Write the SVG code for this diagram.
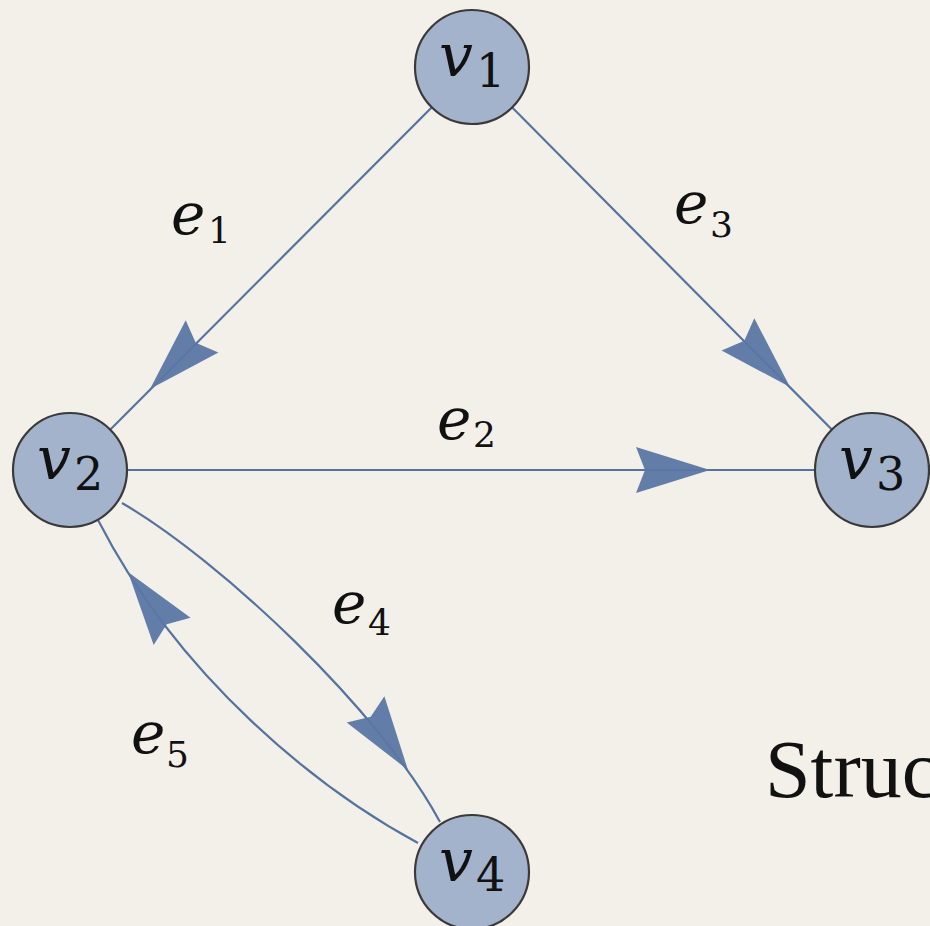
<svg xmlns="http://www.w3.org/2000/svg" width="930" height="926" viewBox="0 0 930 926">
<style>
.edge{fill:none;stroke:#5473a0;stroke-width:2.2}
.arrow{fill:#5a77a4;fill-opacity:0.95}
.node{fill:#a3b3cc;stroke:#3a3a3a;stroke-width:2.2}
.v{font-family:"DejaVu Serif",serif;font-style:italic;font-size:60px;fill:#111}
.vs{font-family:"DejaVu Serif",serif;font-size:46px;fill:#111}
.e{font-family:"DejaVu Serif",serif;font-style:italic;font-size:58px;fill:#111}
.es{font-family:"DejaVu Serif",serif;font-size:36px;fill:#111}
.title{font-family:"Liberation Serif",serif;font-size:82px;fill:#111}
</style>
<defs>
<path id="ah" d="M0,0 L-74,-23 L-65,0 L-74,23 Z"/>
</defs>
<rect width="930" height="926" fill="#f3f0ea"/>
<g id="connectors">
<line class="edge" x1="472" y1="67" x2="70" y2="470"/>
<line class="edge" x1="472" y1="67" x2="872" y2="470"/>
<line class="edge" x1="70" y1="470" x2="872" y2="470"/>
<path class="edge" d="M122,503 C220,560 380,710 440,822"/>
<path class="edge" d="M418,843 C320,790 180,680 98,520"/>
<use href="#ah" class="arrow" transform="translate(150,389) rotate(134.7)"/>
<use href="#ah" class="arrow" transform="translate(790,387) rotate(45.3)"/>
<use href="#ah" class="arrow" transform="translate(710,470)"/>
<use href="#ah" class="arrow" transform="translate(408,770) rotate(55)"/>
<use href="#ah" class="arrow" transform="translate(128,572) rotate(233.4)"/>
<text class="e" x="171" y="234">e</text><text class="es" x="208" y="243">1</text>
<text class="e" x="674" y="223">e</text><text class="es" x="710" y="237">3</text>
<text class="e" x="437" y="439">e</text><text class="es" x="473" y="447">2</text>
<text class="e" x="332" y="623">e</text><text class="es" x="368" y="635">4</text>
<text class="e" x="131" y="753">e</text><text class="es" x="166" y="767">5</text>
</g>
<g id="v1"><circle class="node" cx="472" cy="67" r="57"/><text class="v" x="439" y="76">v</text><text class="vs" x="476" y="87">1</text></g>
<g id="v2"><circle class="node" cx="70" cy="470" r="57"/><text class="v" x="37" y="479">v</text><text class="vs" x="74" y="490">2</text></g>
<g id="v3"><circle class="node" cx="872" cy="470" r="57"/><text class="v" x="839" y="479">v</text><text class="vs" x="876" y="490">3</text></g>
<g id="v4"><circle class="node" cx="472" cy="872" r="57"/><text class="v" x="439" y="881">v</text><text class="vs" x="476" y="891">4</text></g>
<text class="title" x="765" y="797">Struc</text>
</svg>
